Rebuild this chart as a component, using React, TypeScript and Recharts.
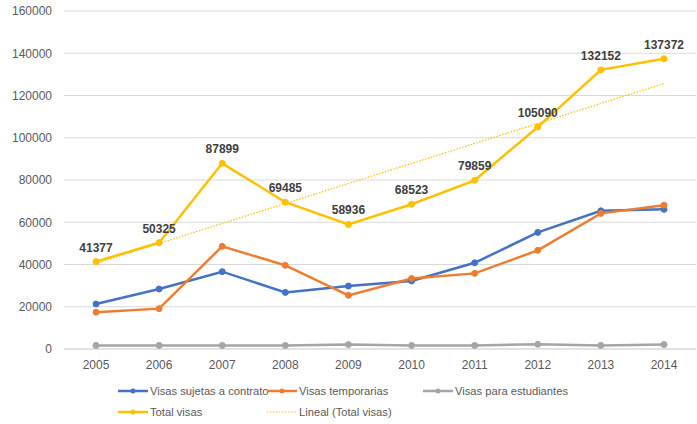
import { LineChart, Line, XAxis, YAxis, CartesianGrid, Legend, ReferenceLine, LabelList } from "recharts";

const years = ["2005", "2006", "2007", "2008", "2009", "2010", "2011", "2012", "2013", "2014"];
const contrato = [21300, 28400, 36600, 26800, 29800, 32200, 40800, 55200, 65400, 66100];
const temporarias = [17400, 19100, 48600, 39600, 25400, 33400, 35800, 46700, 64200, 68100];
const estudiantes = [1700, 1700, 1700, 1700, 2100, 1700, 1700, 2200, 1700, 2100];
const totalVisas = [41377, 50325, 87899, 69485, 58936, 68523, 79859, 105090, 132152, 137372];
// trend line ends (2005 -> 2014)
const trendEnds = [40500, 125700];
const yTicks = [0, 20000, 40000, 60000, 80000, 100000, 120000, 140000, 160000];

const data = years.map((year, i) => ({
  year,
  contrato: contrato[i],
  temporarias: temporarias[i],
  estudiantes: estudiantes[i],
  total: totalVisas[i],
}));

const FONT = "'Liberation Sans', Arial, sans-serif";
const TXT = "#595959";

const legendItems = [
  { name: "Visas sujetas a contrato", color: "#4472C4", dotted: false, x: 118, y: 391 },
  { name: "Visas temporarias", color: "#ED7D31", dotted: false, x: 267, y: 391 },
  { name: "Visas para estudiantes", color: "#A5A5A5", dotted: false, x: 423, y: 391 },
  { name: "Total visas", color: "#FFC000", dotted: false, x: 118, y: 412 },
  { name: "Lineal (Total visas)", color: "#FFC000", dotted: true, x: 267, y: 412 },
];

function CustomLegend() {
  return (
    <svg width={697} height={45} style={{ position: "absolute", left: 0, top: 379 }}>
      {legendItems.map((it) => {
        const y = it.y - 379;
        return (
          <g key={it.name}>
            <line
              x1={it.x}
              x2={it.x + 30}
              y1={y}
              y2={y}
              stroke={it.color}
              strokeWidth={it.dotted ? 1 : 2.5}
              strokeDasharray={it.dotted ? "1.5 1.5" : undefined}
            />
            {!it.dotted && <circle cx={it.x + 15} cy={y} r={2.5} fill={it.color} />}
            <text x={it.x + 32} y={y + 4} fontSize={11.2} fill={TXT} fontFamily={FONT}>
              {it.name}
            </text>
          </g>
        );
      })}
    </svg>
  );
}

export default function App() {
  return (
    <div style={{ position: "absolute", left: 0, top: 0, width: 697, height: 424, background: "#fff" }}>
      <LineChart
        width={697}
        height={424}
        data={data}
        margin={{ top: 11, right: 1, left: 0, bottom: 0 }}
        style={{ fontFamily: FONT }}
      >
        <CartesianGrid vertical={false} stroke="#D9D9D9" />
        <XAxis
          dataKey="year"
          height={30}
          padding={{ left: 32, right: 32 }}
          tickLine={false}
          tickSize={0}
          tickMargin={11}
          axisLine={{ stroke: "#D9D9D9" }}
          tick={{ fill: TXT, fontSize: 12 }}
        />
        <YAxis
          width={64}
          domain={[0, 160000]}
          ticks={yTicks}
          interval={0}
          axisLine={false}
          tickLine={false}
          tickSize={0}
          tickMargin={12}
          tick={{ fill: TXT, fontSize: 12 }}
        />
        <Legend verticalAlign="bottom" height={45} content={() => null} />
        <ReferenceLine
          segment={[
            { x: years[0], y: trendEnds[0] },
            { x: years[years.length - 1], y: trendEnds[1] },
          ]}
          stroke="#FFC000"
          strokeWidth={1.2}
          strokeDasharray="1.5 1.5"
          ifOverflow="visible"
        />
        <Line
          type="linear"
          dataKey="contrato"
          stroke="#4472C4"
          strokeWidth={2.5}
          dot={{ r: 3, fill: "#4472C4", stroke: "#4472C4", strokeWidth: 1 }}
          isAnimationActive={false}
        />
        <Line
          type="linear"
          dataKey="temporarias"
          stroke="#ED7D31"
          strokeWidth={2.5}
          dot={{ r: 3, fill: "#ED7D31", stroke: "#ED7D31", strokeWidth: 1 }}
          isAnimationActive={false}
        />
        <Line
          type="linear"
          dataKey="estudiantes"
          stroke="#A5A5A5"
          strokeWidth={2.5}
          dot={{ r: 3, fill: "#A5A5A5", stroke: "#A5A5A5", strokeWidth: 1 }}
          isAnimationActive={false}
        />
        <Line
          type="linear"
          dataKey="total"
          stroke="#FFC000"
          strokeWidth={2.5}
          dot={{ r: 3, fill: "#FFC000", stroke: "#FFC000", strokeWidth: 1 }}
          isAnimationActive={false}
        >
          <LabelList
            dataKey="total"
            position="top"
            offset={10}
            fill="#404040"
            fontSize={12}
            fontWeight="bold"
          />
        </Line>
      </LineChart>
      <CustomLegend />
    </div>
  );
}
